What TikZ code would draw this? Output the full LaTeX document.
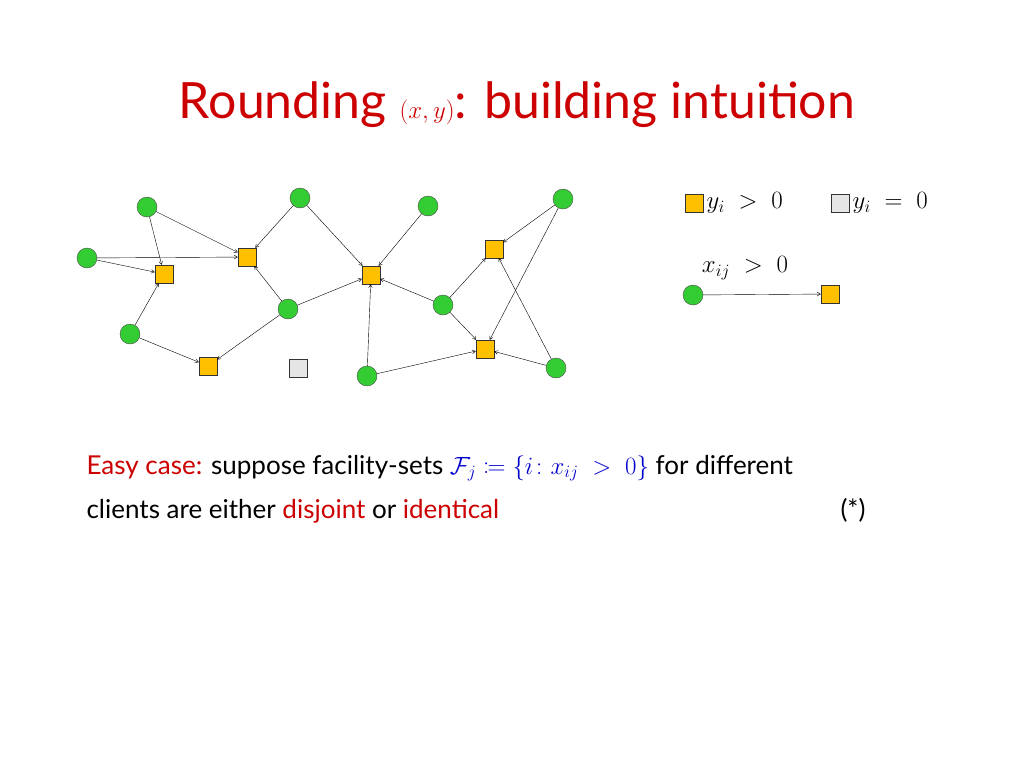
\documentclass[tikz,border=0pt]{standalone}
\usepackage{amsmath,amssymb,mathtools}
\usepackage{fontspec}
\setmainfont{Lato}
\usetikzlibrary{arrows}
\definecolor{titlered}{RGB}{204,0,0}
\definecolor{cgreen}{RGB}{51,204,51}
\definecolor{fyellow}{RGB}{255,192,0}
\definecolor{mblue}{RGB}{0,0,204}
\tikzset{
  client/.style={circle, fill=cgreen, draw=black!70, minimum size=20pt, inner sep=0pt},
  facil/.style={rectangle, fill=fyellow, draw=black!80, minimum size=18pt, inner sep=0pt},
  closed/.style={rectangle, fill=black!10, draw=black!80, minimum size=18pt, inner sep=0pt},
  assign/.style={->, >=angle 60, thin}
}
\begin{document}
\begin{tikzpicture}[x=1pt,y=-1pt]
\useasboundingbox (0,0) rectangle (1024,768);
\node[titlered, font=\fontsize{50}{60}\selectfont] (title) at (517,105) {Rounding $(x,y)$: building intuition};

% clients
\node[client] (c1) at (147,207) {};
\node[client] (c2) at (300,198) {};
\node[client] (c3) at (428,206) {};
\node[client] (c4) at (563,199) {};
\node[client] (c5) at (87,258) {};
\node[client] (c6) at (288,309) {};
\node[client] (c7) at (443,305) {};
\node[client] (c8) at (130,334) {};
\node[client] (c9) at (367,376) {};
\node[client] (c10) at (556,368) {};
% facilities
\node[facil] (s1) at (164,274) {};
\node[facil] (s2) at (247,257) {};
\node[facil] (s3) at (371,275) {};
\node[facil] (s4) at (494,249) {};
\node[facil] (s5) at (208,366) {};
\node[facil] (s6) at (485,349) {};
\node[closed] (g1) at (298,368) {};

\foreach \a/\b in {c1/s1,c1/s2,c5/s1,c5/s2,c2/s2,c2/s3,c6/s2,c6/s5,c6/s3,c3/s3,c7/s3,c7/s4,c7/s6,c4/s4,c4/s6,c10/s4,c10/s6,c8/s1,c8/s5,c9/s3,c9/s6}
  \draw[assign] (\a) -- (\b);

% legend
\node[facil] (ly) at (694,203) {};
\node[anchor=west, font=\fontsize{24}{28}\selectfont] (lyt) at (ly.east) {$y_i\;>\;0$};
\node[closed] (lg) at (840,203) {};
\node[anchor=west, font=\fontsize{24}{28}\selectfont] (lgt) at (lg.east) {$y_i\;=\;0$};
\node[client] (lc) at (693,295) {};
\node[facil] (lf) at (830,294) {};
\draw[assign] (lc) -- (lf);
\node[font=\fontsize{24}{28}\selectfont] (lx) at (745,268) {$x_{ij}\;>\;0$};

% text
\node[anchor=base west, font=\fontsize{26}{30}\selectfont] (t1) at (83,474) {\textcolor{titlered}{Easy case:} suppose facility-sets \textcolor{mblue}{$\mathcal{F}_j \coloneqq \{i\colon x_{ij}\;>\;0\}$} for different};
\node[anchor=base west, font=\fontsize{26}{30}\selectfont] (t2) at (83,518) {clients are either \textcolor{titlered}{disjoint} or \textcolor{titlered}{identical}};
\node[anchor=base, font=\fontsize{26}{30}\selectfont] (t3) at (853,518) {(*)};
\end{tikzpicture}
\end{document}
